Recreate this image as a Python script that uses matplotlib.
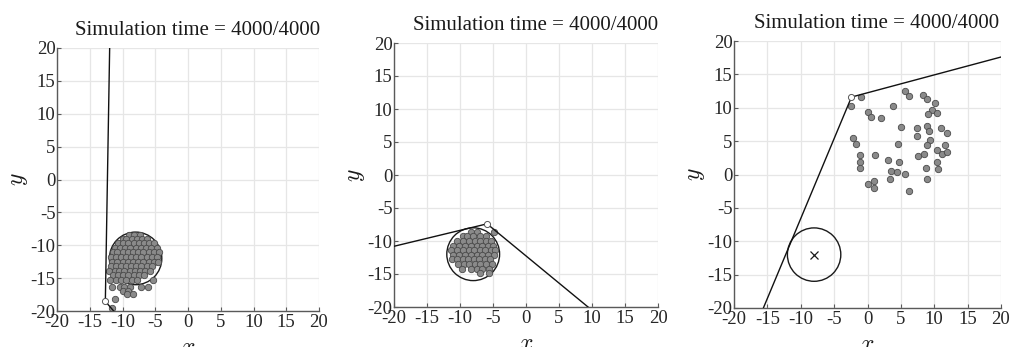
import numpy as np
import matplotlib
matplotlib.use("Agg")
import matplotlib.pyplot as plt
from matplotlib.patches import Circle

plt.rcParams['font.family'] = ['Liberation Serif', 'DejaVu Serif']
plt.rcParams['mathtext.fontset'] = 'cm'

# ---------------- data ----------------
title_text = "Simulation time = 4000/4000"
tick_values = [-20, -15, -10, -5, 0, 5, 10, 15, 20]
tick_labels = ["-20", "-15", "-10", "-5", "0", "5", "10", "15", "20"]

goal_center = (-8.0, -12.0)
goal_radius = 4.0

# panel 1
p1_line_x = [-11.96, -12.62, -11.35]
p1_line_y = [20.0, -18.53, -20.0]
p1_dog = (-12.62, -18.53)
p1_rows_y = [-8.4, -9.0, -9.7, -10.4, -11.1, -11.8, -12.5, -13.2, -13.9, -14.6,
             -15.3, -16.3, -17.0, -17.4, -18.2, -19.5]
p1_rows_x = [
    [-9.0, -8.2, -7.4],
    [-10.0, -9.4, -8.6, -7.8, -7.0, -6.3],
    [-10.7, -9.9, -9.1, -8.3, -7.5, -6.7, -5.9, -5.2],
    [-11.2, -10.4, -9.6, -8.8, -8.0, -7.2, -6.4, -5.6, -4.8],
    [-11.5, -10.8, -10.0, -9.2, -8.4, -7.6, -6.8, -6.0, -5.2, -4.5],
    [-11.7, -11.0, -10.3, -9.5, -8.7, -7.9, -7.1, -6.3, -5.5, -4.7],
    [-11.6, -10.8, -10.0, -9.2, -8.4, -7.6, -6.8, -6.0, -5.2, -4.6],
    [-11.8, -11.0, -10.3, -9.5, -8.7, -7.9, -7.1, -6.3, -5.5],
    [-12.0, -11.2, -10.5, -9.7, -8.9, -8.1, -7.3, -6.5, -5.8],
    [-11.5, -10.7, -9.9, -9.1, -8.3, -7.5, -6.7],
    [-11.9, -11.0, -10.2, -9.4, -8.6, -7.8, -5.3],
    [-11.6, -10.4, -9.7, -8.8, -7.2, -6.1],
    [-10.0, -9.1],
    [-9.3, -8.45],
    [-11.1],
    [-11.55],
]

# panel 2
p2_line_x = [-20.0, -5.9, 9.4]
p2_line_y = [-10.8, -7.4, -20.0]
p2_dog = (-5.9, -7.4)
p2_rows_y = [-8.7, -9.3, -10.0, -10.7, -11.4, -12.1, -12.8, -13.5, -14.2, -14.8]
p2_rows_x = [
    [-8.4, -7.5, -4.9],
    [-9.6, -8.9, -8.0, -6.9, -6.0],
    [-10.4, -9.5, -8.7, -7.8, -6.9, -6.1, -5.3],
    [-11.0, -10.1, -9.2, -8.4, -7.5, -6.6, -5.7, -5.0],
    [-11.3, -10.5, -9.6, -8.7, -7.9, -7.0, -6.2, -5.3, -4.7],
    [-11.0, -10.1, -9.3, -8.4, -7.5, -6.6, -5.8, -4.9],
    [-11.2, -10.4, -9.6, -8.8, -7.9, -7.1, -6.2, -5.4],
    [-10.3, -9.4, -8.6, -7.7, -6.9, -6.0, -5.1],
    [-9.65, -8.3, -7.4, -6.6, -5.6],
    [-6.9, -5.6],
]

# panel 3
p3_line_x = [-15.6, -2.4, 20.0]
p3_line_y = [-20.0, 11.6, 17.6]
p3_dog = (-2.4, 11.6)
p3_x = [-2.52, -1.02, -2.12, -1.77, -1.07, -1.07, -1.17, 0.0, 0.47, 2.07,
        3.77, 1.17, 3.02, 4.57, 5.07, 4.77, 3.47, 4.37, 3.32, 0.12,
        0.92, 0.92, 5.67, 6.17, 5.67, 6.17, 8.37, 8.97, 10.16, 9.71,
        9.06, 10.46, 7.37, 8.87, 9.27, 10.96, 11.86, 7.47, 9.36, 8.97,
        11.56, 10.46, 11.11, 11.86, 7.62, 8.47, 8.82, 10.46, 10.61, 8.97]
p3_y = [10.24, 11.58, 5.5, 4.6, 2.91, 1.87, 1.02, 9.34, 8.64, 8.39,
        10.24, 2.91, 2.17, 4.6, 7.05, 1.82, 0.47, 0.37, -0.62, -1.47,
        -0.97, -1.97, 0.02, -2.42, 12.58, 11.78, 11.88, 11.28, 10.68, 9.59,
        9.09, 9.19, 7.0, 7.3, 6.55, 7.0, 6.25, 5.7, 5.16, 4.36,
        4.41, 3.66, 3.11, 3.41, 2.76, 3.01, 1.02, 1.92, 0.82, -0.67]


def flatten(rows_y, rows_x):
    xs, ys = [], []
    for yv, xr in zip(rows_y, rows_x):
        for xv in xr:
            xs.append(xv)
            ys.append(yv)
    return xs, ys


p1_x, p1_y = flatten(p1_rows_y, p1_rows_x)
p2_x, p2_y = flatten(p2_rows_y, p2_rows_x)

panels = [
    dict(pos=(57, 48, 262, 263), lx=p1_line_x, ly=p1_line_y, dog=p1_dog, sx=p1_x, sy=p1_y),
    dict(pos=(394, 43, 264, 264), lx=p2_line_x, ly=p2_line_y, dog=p2_dog, sx=p2_x, sy=p2_y),
    dict(pos=(734, 41, 267, 267), lx=p3_line_x, ly=p3_line_y, dog=p3_dog, sx=p3_x, sy=p3_y),
]

W, H = 1012, 347
fig = plt.figure(figsize=(W / 100, H / 100), dpi=100)
fig.patch.set_facecolor('white')

spine_col = '#5a5a5a'
for p in panels:
    l, t, w, h = p['pos']
    ax = fig.add_axes([l / W, (H - t - h) / H, w / W, h / H])
    ax.set_xlim(-20, 20)
    ax.set_ylim(-20, 20)
    ax.set_xticks(tick_values)
    ax.set_yticks(tick_values)
    ax.set_xticklabels(tick_labels)
    ax.set_yticklabels(tick_labels)
    ax.grid(True, color='#e6e6e6', lw=0.9)
    ax.set_axisbelow(True)
    for s in ['top', 'right']:
        ax.spines[s].set_visible(False)
    for s in ['left', 'bottom']:
        ax.spines[s].set_color(spine_col)
        ax.spines[s].set_linewidth(1.0)
    ax.tick_params(axis='both', direction='in', length=3, width=0.8, color=spine_col,
                   labelsize=13.5, labelcolor='#262626')
    ax.tick_params(axis='x', pad=2.5)
    ax.tick_params(axis='y', pad=1.0)

    # goal region
    ax.add_patch(Circle(goal_center, goal_radius, fill=False, ec='#1a1a1a', lw=1.0, zorder=2))
    ax.plot([goal_center[0]], [goal_center[1]], marker='x', color='#1a1a1a', ms=6, mew=0.9,
            ls='none', zorder=2)
    # sheep
    ax.plot(p['sx'], p['sy'], 'o', ms=4.6, mfc='#8a8a8a', mec='#4a4a4a', mew=0.6,
            ls='none', zorder=3)
    # dog path
    ax.plot(p['lx'], p['ly'], color='#111111', lw=1.0, zorder=4, clip_on=True)
    ax.plot([p['dog'][0]], [p['dog'][1]], 'o', ms=4.4, mfc='white', mec='#555555', mew=0.7,
            zorder=5)

    ax.annotate(title_text, xy=(0.5 + 9.5 / w, 1.0), xycoords='axes fraction',
                xytext=(0, 9.5), textcoords='offset points', ha='center', va='baseline',
                fontsize=15, color='#1a1a1a')
    ax.set_xlabel('$x$', fontsize=17, color='#1a1a1a')
    ax.set_ylabel('$y$', fontsize=17, color='#1a1a1a')
    ax.xaxis.set_label_coords(0.5, -27 / h)
    ax.xaxis.label.set_va('top')
    ax.yaxis.set_label_coords(-27 / w, 0.5)

fig.savefig('out.png', dpi=100, facecolor='white')
